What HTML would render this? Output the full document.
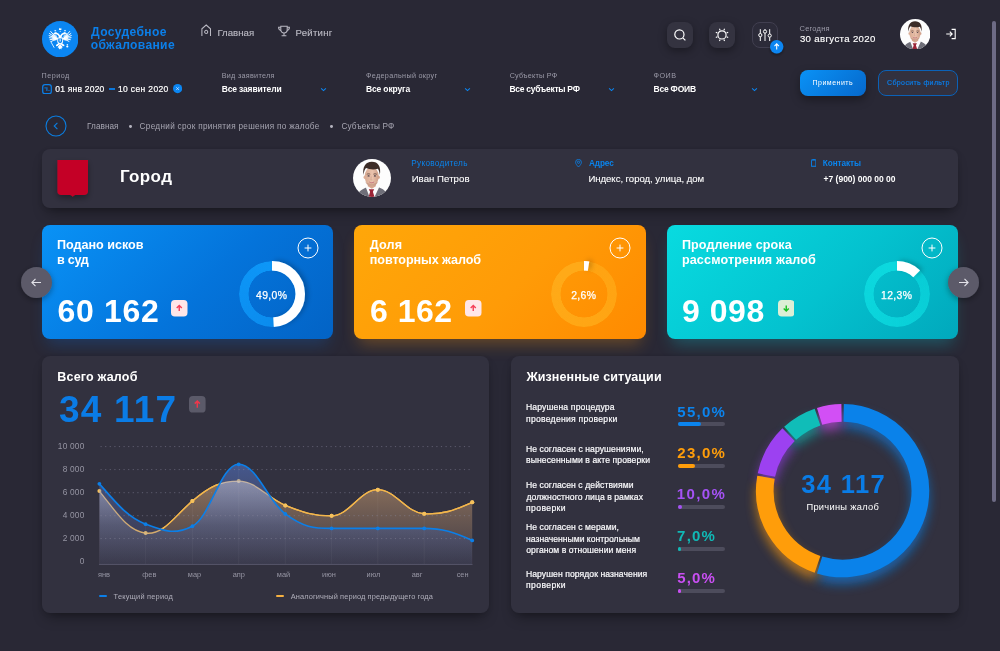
<!DOCTYPE html>
<html lang="ru"><head><meta charset="utf-8"><title>Досудебное обжалование</title>
<style>
html,body{margin:0;padding:0}
body{width:1000px;height:651px;overflow:hidden;position:relative;background:#292835;font-family:"Liberation Sans",sans-serif;color:#fff}
.abs{position:absolute;display:block}
.t{position:absolute;white-space:nowrap;line-height:1;display:block}
.panel{background:#32313f;border-radius:8px;box-shadow:0 8px 14px -5px rgba(0,0,0,.42),0 1px 5px rgba(0,0,0,.1)}
.kpi{border-radius:8px}
.ibtn{position:absolute;width:26px;height:26px;border-radius:8px;background:#343340;box-shadow:0 3px 8px rgba(0,0,0,.35)}
.ibtn.ob{background:#2c2b39;box-shadow:none;border:1px solid #413f50;box-sizing:border-box}
.ibtn.ob svg{margin:-1px}
.ibtn svg{display:block}
.btn1{border-radius:8px;background:linear-gradient(135deg,#0a92f6,#0668cb);box-shadow:0 4px 10px rgba(0,0,0,.35)}
.btn2{border-radius:8px;background:#32313f;border:1px solid #0b62b8;box-sizing:border-box}
</style></head><body>
<header>
<svg class="abs" style="left:41.800px;top:21px" width="36.400" height="36.400" viewBox="0 0 36.400 36.400"><circle cx="18.200" cy="18.200" r="18.200" fill="#0b86f2"/><path d="M14.90 14.80L11.20 12.40L10.00 15.00L10.40 18.20L12.40 19.70L15.20 19.00Z" fill="#fff" opacity=".7"/><path d="M14.90 17.60L8.70 10.50M14.90 17.60L7.50 12.50M14.90 17.60L7.10 14.60M14.90 17.60L7.30 16.70M14.90 17.60L8.00 18.70M14.90 17.60L9.40 20.40" stroke="#fff" stroke-width=".95" stroke-linecap="round" fill="none"/><path d="M21.46 14.80L25.16 12.40L26.36 15.00L25.96 18.20L23.96 19.70L21.16 19.00Z" fill="#fff" opacity=".7"/><path d="M21.46 17.60L27.66 10.50M21.46 17.60L28.86 12.50M21.46 17.60L29.26 14.60M21.46 17.60L29.06 16.70M21.46 17.60L28.36 18.70M21.46 17.60L26.96 20.40" stroke="#fff" stroke-width=".95" stroke-linecap="round" fill="none"/><path d="M13.900 12.300c2 .2 3.300 1.600 4.280 4.100.98-2.500 2.280-3.900 4.280-4.100" stroke="#fff" stroke-width="1.500" fill="none" stroke-linecap="round"/><path d="M18.180 15v2.500" stroke="#fff" stroke-width="2.600"/><g fill="#fff"><circle cx="13.700" cy="12.300" r="1.150"/><path d="M13 11.600l-1.900.9 2 .7z"/><circle cx="22.660" cy="12.300" r="1.150"/><path d="M23.360 11.600l1.900.9-2 .7z"/><path d="M12.500 10.300l.2-1.500.7.700.6-.7.200 1.500zM22.160 10.300l.2-1.500.6.700.7-.7.200 1.500zM16.900 9l.3-2.200.98.900.98-.9.300 2.200z"/><path d="M18.180 9.400l.5 1.500h-1z"/><path d="M15.300 16.600h5.760v3.800c0 1.500-1.200 2.500-2.880 3.200-1.680-.7-2.880-1.700-2.880-3.200z"/><path d="M16.600 22l-2.700 2 .3 1.200 1.500-.3 2-1.600zM19.760 22l2.700 2-.3 1.200-1.500-.3-2-1.600z"/><path d="M18.180 23l2.700 3.300-1.200.5-.4 1.700-1.100-.9-1.100.9-.4-1.700-1.200-.5z"/><circle cx="25.300" cy="25.500" r="1.100"/><path d="M25 23h.6v1.600H25zM24.500 23.500h1.600v.5h-1.600z"/></g><path d="M8.700 20.500l3.300 5.900" stroke="#fff" stroke-width=".8" stroke-linecap="round"/><path d="M16.200 17.400h3.960v2.900c0 .9-.8 1.500-1.980 2-1.180-.5-1.980-1.100-1.980-2z" fill="#0b86f2"/><path d="M17.500 18.300h1.360v2.200H17.500z" fill="#fff" opacity=".8"/></svg>
<span class="t" style="left:91.08px;top:25.56px;font-size:12.1px;color:#0b7fe9;font-weight:700;letter-spacing:0.339px;">Досудебное</span>
<span class="t" style="left:90.72px;top:38.86px;font-size:12.1px;color:#0b7fe9;font-weight:700;letter-spacing:0.338px;">обжалование</span>
<svg class="abs" style="left:200.500px;top:23.600px" width="10.400" height="13" viewBox="0 0 10.400 13" fill="none" stroke="#bab9c3" stroke-width="1.050"><path d="M.9 12.100V4.800L5.200 1l4.300 3.800v7.300"/><circle cx="5.200" cy="7.900" r="1.550"/></svg>
<span class="t" style="left:217.43px;top:27.77px;font-size:9.6px;color:#bab9c3;letter-spacing:0.035px;-webkit-text-stroke:0.15px #bab9c3;">Главная</span>
<svg class="abs" style="left:277px;top:25px" width="14" height="12" viewBox="0 0 14 12" fill="none" stroke="#bab9c3" stroke-width="1.050"><path d="M3.800 1.200h6.400v3.600a3.200 3.200 0 0 1-6.400 0z"/><path d="M3.800 2.200H1.600c0 2 .8 3 2.400 3.200M10.200 2.200h2.200c0 2-.8 3-2.400 3.200M7 8v2.400M4.600 10.800h4.800"/></svg>
<span class="t" style="left:295.53px;top:27.77px;font-size:9.6px;color:#bab9c3;letter-spacing:0.254px;-webkit-text-stroke:0.15px #bab9c3;">Рейтинг</span>
<div class="ibtn" style="left:667px;top:22px"><svg width="26" height="26" viewBox="0 0 26 26" fill="none" stroke="#fff" stroke-width="1.2"><circle cx="12.400" cy="12.400" r="4.600"/><path d="M15.800 15.800l2.600 2.600"/></svg></div>
<div class="ibtn" style="left:709.4px;top:22px"><svg width="26" height="26" viewBox="0 0 26 26" fill="none" stroke="#fff" stroke-width="1.150"><circle cx="13" cy="12.900" r="4.100"/><path d="M17.53 14.78L19.19 15.46M14.88 17.43L15.56 19.09M11.12 17.43L10.44 19.09M8.47 14.78L6.81 15.46M8.47 11.02L6.81 10.34M11.12 8.37L10.44 6.71M14.88 8.37L15.56 6.71M17.53 11.02L19.19 10.34"/></svg></div>
<div class="ibtn ob" style="left:752.400px;top:22px"><svg width="26" height="26" viewBox="0 0 26 26" fill="none" stroke="#fff" stroke-width="1"><path d="M8.300 7.200v4.300M8.300 14.700v4.300M13 7.200v.8M13 11.200v7.800M17.700 7.200v4.800M17.700 15.200v3.800"/><circle cx="8.300" cy="13.100" r="1.600"/><circle cx="13" cy="9.600" r="1.600"/><circle cx="17.700" cy="13.600" r="1.600"/></svg></div>
<svg class="abs" style="left:769.800px;top:39.500px;overflow:visible" width="13.400" height="13.400" viewBox="0 0 13.400 13.400"><defs><filter id="bs" x="-50%" y="-50%" width="200%" height="200%"><feDropShadow dx="0" dy="1.500" stdDeviation="1.800" flood-color="#000" flood-opacity=".4"/></filter></defs><circle cx="6.700" cy="6.700" r="6.700" fill="#0b86f2" filter="url(#bs)"/><path d="M6.700 9.600V4M4.500 6.100l2.200-2.200 2.200 2.200" fill="none" stroke="#fff" stroke-width="1.100"/></svg>
<span class="t" style="left:799.62px;top:24.65px;font-size:7.5px;color:#9b9aa8;letter-spacing:0.196px;">Сегодня</span>
<span class="t" style="left:799.92px;top:34.47px;font-size:9.6px;color:#fff;letter-spacing:0.361px;-webkit-text-stroke:0.15px #fff;">30 августа 2020</span>
<svg class="abs" style="left:899.6px;top:18.9px" width="30.4" height="30.4" viewBox="0 0 38 38"><defs><clipPath id="av914"><circle cx="19" cy="19" r="19"/></clipPath><linearGradient id="sk914" x1="0" y1="0" x2="1" y2="0"><stop offset="0" stop-color="#d8aa92"/><stop offset=".55" stop-color="#eac3ad"/><stop offset="1" stop-color="#cd9d86"/></linearGradient></defs><g clip-path="url(#av914)"><rect width="38" height="38" fill="#fdfdfd"/><path d="M4.500 38c.3-4.500 2.500-6.500 8.700-9.400L19 38l6.800-9.800c5.700 2.300 8.200 5 8.400 9.800z" fill="#6f6f79"/><path d="M13 28.800l2.200-3h8.200l2.600 2.800L21.500 38h-5z" fill="#fbfbfc"/><path d="M15.800 30.200h5.400l-1.300 2.600 1.600 5.200h-5.900l1.500-5.200z" fill="#9b2436"/><path d="M14.800 22h8v5.200l-4 2.600-4-2.600z" fill="#d7a78f"/><ellipse cx="18.700" cy="17.600" rx="7" ry="9.600" fill="url(#sk914)"/><ellipse cx="11.600" cy="18.200" rx="1" ry="1.700" fill="#dcae97"/><ellipse cx="25.800" cy="18.200" rx="1" ry="1.700" fill="#d3a28b"/><path d="M12 22c1.500 4 4 5.400 6.700 5.400s5.200-1.400 6.700-5.400c-1 2-3.500 2.600-6.700 2.600S13 24 12 22z" fill="#b98a78" opacity=".55"/><path d="M10.500 16c-1.300-8 2-13.300 8.300-13.300 6.400 0 9.400 4.600 8.100 13.300-.4-3-1-5-2.100-6.300-3.400 1.200-8.800.7-11.800-.6-1.300 1.400-2.100 3.700-2.500 6.900z" fill="#3c2c27"/><path d="M13.800 15.300c1-.6 2.400-.6 3.400-.1M20.400 15.200c1-.5 2.400-.5 3.400.1" stroke="#4a362f" stroke-width=".7" fill="none"/><ellipse cx="15.600" cy="16.900" rx="1.100" ry=".55" fill="#3b3340"/><ellipse cx="21.900" cy="16.900" rx="1.100" ry=".55" fill="#3b3340"/><path d="M18.400 17.500l-.6 3.400h1.700" stroke="#c99a85" stroke-width=".5" fill="none"/><path d="M16.600 23.200c1.300.7 2.900.7 4.200 0" stroke="#c2707c" stroke-width=".9" fill="none" stroke-linecap="round"/></g></svg>
<svg class="abs" style="left:944.500px;top:28px" width="12" height="12" viewBox="0 0 12 12" fill="none" stroke="#fff" stroke-width="1.100"><path d="M6.600 1.400h3.600v9.200H6.600"/><path d="M1.200 6h5.800M4.800 3.600L7.200 6 4.800 8.400"/></svg>
</header>
<section>
<span class="t" style="left:41.52px;top:71.91px;font-size:7.2px;color:#9b9aa8;letter-spacing:0.510px;">Период</span>
<span class="t" style="left:221.72px;top:71.91px;font-size:7.2px;color:#9b9aa8;letter-spacing:0.295px;">Вид заявителя</span>
<span class="t" style="left:366.07px;top:71.91px;font-size:7.2px;color:#9b9aa8;letter-spacing:0.325px;">Федеральный округ</span>
<span class="t" style="left:509.64px;top:71.91px;font-size:7.2px;color:#9b9aa8;letter-spacing:0.238px;">Субъекты РФ</span>
<span class="t" style="left:653.57px;top:71.91px;font-size:7.2px;color:#9b9aa8;letter-spacing:0.456px;">ФОИВ</span>
<svg class="abs" style="left:41.500px;top:83.800px" width="10" height="10.400" viewBox="0 0 10 10.400" fill="none" stroke="#0b80ea" stroke-width="1.250"><rect x=".7" y=".7" width="8.600" height="9" rx="2.300"/><path d="M3.100 3.600v.5M4.900 3.600v2.900M7 6.400v.1" stroke-linecap="round" stroke-width="1.100"/></svg>
<span class="t" style="left:55.26px;top:85.10px;font-size:8.5px;color:#fff;letter-spacing:0.220px;-webkit-text-stroke:0.2px #fff;">01 янв 2020</span>
<div class="abs" style="left:109.200px;top:88.300px;width:5.600px;height:1.500px;background:#0b78dc"></div>
<span class="t" style="left:117.96px;top:85.10px;font-size:8.5px;color:#fff;letter-spacing:0.363px;-webkit-text-stroke:0.2px #fff;">10 сен 2020</span>
<svg class="abs" style="left:173px;top:84.400px" width="9.200" height="9.200" viewBox="0 0 9.200 9.200"><circle cx="4.600" cy="4.600" r="4.600" fill="#0b86f2"/><path d="M3.300 3.300l2.600 2.600M5.900 3.300L3.300 5.900" stroke="#cfe6ff" stroke-width=".8"/></svg>
<span class="t" style="left:221.75px;top:84.80px;font-size:8.5px;color:#fff;font-weight:700;letter-spacing:-0.155px;">Все заявители</span>
<span class="t" style="left:365.95px;top:84.80px;font-size:8.5px;color:#fff;font-weight:700;letter-spacing:-0.141px;">Все округа</span>
<span class="t" style="left:509.45px;top:84.80px;font-size:8.5px;color:#fff;font-weight:700;letter-spacing:-0.277px;">Все субъекты РФ</span>
<span class="t" style="left:653.45px;top:84.80px;font-size:8.5px;color:#fff;font-weight:700;letter-spacing:-0.199px;">Все ФОИВ</span>
<svg class="abs" style="left:319.9px;top:87px" width="7" height="5" viewBox="0 0 7 5" fill="none" stroke="#0b86f2" stroke-width="1.050"><path d="M1.100 1.300l2.400 2.300 2.400-2.300"/></svg>
<svg class="abs" style="left:463.5px;top:87px" width="7" height="5" viewBox="0 0 7 5" fill="none" stroke="#0b86f2" stroke-width="1.050"><path d="M1.100 1.300l2.400 2.300 2.400-2.300"/></svg>
<svg class="abs" style="left:607.5px;top:87px" width="7" height="5" viewBox="0 0 7 5" fill="none" stroke="#0b86f2" stroke-width="1.050"><path d="M1.100 1.300l2.400 2.300 2.400-2.300"/></svg>
<svg class="abs" style="left:751.1px;top:87px" width="7" height="5" viewBox="0 0 7 5" fill="none" stroke="#0b86f2" stroke-width="1.050"><path d="M1.100 1.300l2.400 2.300 2.400-2.300"/></svg>
<div class="abs btn1" style="left:800px;top:70px;width:66px;height:25.600px"></div>
<span class="t" style="left:812.44px;top:79.27px;font-size:7px;color:#fff;letter-spacing:0.511px;">Применить</span>
<div class="abs btn2" style="left:878px;top:70px;width:80.400px;height:25.600px"></div>
<span class="t" style="left:887.05px;top:79.27px;font-size:7px;color:#0b7be4;letter-spacing:0.373px;-webkit-text-stroke:0.2px #0b7be4;">Сбросить фильтр</span>
</section>
<nav>
<svg class="abs" style="left:45px;top:114.800px" width="22" height="22" viewBox="0 0 22 22" fill="none" stroke="#0b7de0" stroke-width="1.100"><circle cx="11" cy="11" r="10"/><path d="M12.400 7.800L9.200 11l3.200 3.200"/></svg>
<span class="t" style="left:87.04px;top:122.66px;font-size:8.2px;color:#a6a5b1;letter-spacing:0.055px;">Главная</span>
<div class="abs" style="left:129px;top:125.400px;width:2.800px;height:2.800px;border-radius:50%;background:#b4b3be"></div>
<span class="t" style="left:139.59px;top:122.66px;font-size:8.2px;color:#a6a5b1;letter-spacing:0.307px;">Средний срок принятия решения по жалобе</span>
<div class="abs" style="left:330.300px;top:125.400px;width:2.800px;height:2.800px;border-radius:50%;background:#b4b3be"></div>
<span class="t" style="left:341.49px;top:122.66px;font-size:8.2px;color:#a6a5b1;letter-spacing:0.141px;">Субъекты РФ</span>
</nav>
<section class="abs panel" style="left:42px;top:149px;width:916px;height:59px"></section>
<svg class="abs" style="left:52px;top:156px;overflow:visible" width="42" height="48" viewBox="0 0 42 48"><defs><filter id="ss" x="-30%" y="-30%" width="160%" height="170%"><feDropShadow dx="0" dy="3" stdDeviation="3" flood-color="#000" flood-opacity=".35"/></filter></defs><path filter="url(#ss)" d="M5.400 4h30.600v31.500c0 2-1.600 3.500-4 3.500h-7.800c-1.600 0-2.600.6-3.500 1.700-.9-1.100-1.900-1.700-3.500-1.700H9.400c-2.400 0-4-1.500-4-3.500z" fill="#c40026"/></svg>
<span class="t" style="left:119.89px;top:167.61px;font-size:17px;color:#fff;font-weight:700;letter-spacing:0.389px;">Город</span>
<svg class="abs" style="left:353.0px;top:159.0px" width="38.0" height="38.0" viewBox="0 0 38 38"><defs><clipPath id="av372"><circle cx="19" cy="19" r="19"/></clipPath><linearGradient id="sk372" x1="0" y1="0" x2="1" y2="0"><stop offset="0" stop-color="#d8aa92"/><stop offset=".55" stop-color="#eac3ad"/><stop offset="1" stop-color="#cd9d86"/></linearGradient></defs><g clip-path="url(#av372)"><rect width="38" height="38" fill="#fdfdfd"/><path d="M4.500 38c.3-4.500 2.500-6.500 8.700-9.400L19 38l6.800-9.800c5.700 2.300 8.200 5 8.400 9.800z" fill="#6f6f79"/><path d="M13 28.800l2.200-3h8.200l2.600 2.800L21.500 38h-5z" fill="#fbfbfc"/><path d="M15.800 30.200h5.400l-1.300 2.600 1.600 5.200h-5.900l1.500-5.200z" fill="#9b2436"/><path d="M14.800 22h8v5.200l-4 2.600-4-2.600z" fill="#d7a78f"/><ellipse cx="18.700" cy="17.600" rx="7" ry="9.600" fill="url(#sk372)"/><ellipse cx="11.600" cy="18.200" rx="1" ry="1.700" fill="#dcae97"/><ellipse cx="25.800" cy="18.200" rx="1" ry="1.700" fill="#d3a28b"/><path d="M12 22c1.500 4 4 5.400 6.700 5.400s5.200-1.400 6.700-5.400c-1 2-3.500 2.600-6.700 2.600S13 24 12 22z" fill="#b98a78" opacity=".55"/><path d="M10.500 16c-1.300-8 2-13.300 8.300-13.300 6.400 0 9.400 4.600 8.100 13.300-.4-3-1-5-2.100-6.300-3.400 1.200-8.800.7-11.800-.6-1.300 1.400-2.100 3.700-2.500 6.900z" fill="#3c2c27"/><path d="M13.800 15.300c1-.6 2.400-.6 3.400-.1M20.400 15.200c1-.5 2.400-.5 3.400.1" stroke="#4a362f" stroke-width=".7" fill="none"/><ellipse cx="15.600" cy="16.900" rx="1.100" ry=".55" fill="#3b3340"/><ellipse cx="21.900" cy="16.900" rx="1.100" ry=".55" fill="#3b3340"/><path d="M18.400 17.500l-.6 3.400h1.700" stroke="#c99a85" stroke-width=".5" fill="none"/><path d="M16.600 23.200c1.300.7 2.900.7 4.200 0" stroke="#c2707c" stroke-width=".9" fill="none" stroke-linecap="round"/></g></svg>
<span class="t" style="left:411.24px;top:159.76px;font-size:8.2px;color:#0a84ec;letter-spacing:0.316px;">Руководитель</span>
<span class="t" style="left:411.63px;top:173.77px;font-size:9.6px;color:#fff;letter-spacing:0.059px;-webkit-text-stroke:0.1px #fff;">Иван Петров</span>
<svg class="abs" style="left:575.300px;top:159px" width="7" height="8.500" viewBox="0 0 7 8.500" fill="none" stroke="#0b7de0" stroke-width=".9"><path d="M3.500 8C1.600 6 .6 4.700.6 3.300a2.900 2.900 0 0 1 5.800 0C6.400 4.700 5.400 6 3.500 8z"/><circle cx="3.500" cy="3.300" r="1.100"/></svg>
<span class="t" style="left:589.00px;top:159.76px;font-size:8.2px;color:#0a84ec;font-weight:700;letter-spacing:-0.096px;">Адрес</span>
<span class="t" style="left:588.43px;top:173.77px;font-size:9.6px;color:#fff;letter-spacing:-0.045px;-webkit-text-stroke:0.1px #fff;">Индекс, город, улица, дом</span>
<svg class="abs" style="left:810.700px;top:159px" width="5.400" height="8.400" viewBox="0 0 5.400 8.400" fill="none" stroke="#0b7de0"><rect x=".5" y=".5" width="4.400" height="7.400" rx=".9" stroke-width="1"/><path d="M.5 1.200h4.400M.5 7.200h4.400" stroke-width=".9"/></svg>
<span class="t" style="left:822.87px;top:159.76px;font-size:8.2px;color:#0a84ec;font-weight:700;letter-spacing:-0.065px;">Контакты</span>
<span class="t" style="left:823.56px;top:174.50px;font-size:8.5px;color:#fff;font-weight:700;letter-spacing:-0.006px;">+7 (900) 000 00 00</span>
<article class="abs kpi" style="left:41.5px;top:225px;width:291.700px;height:113.500px;background:linear-gradient(135deg,#0992f6 0%,#0474db 55%,#0363c5 100%);box-shadow:0 10px 16px -5px rgba(10,110,225,.27)"></article>
<span class="t" style="left:57.08px;top:238.83px;font-size:12.6px;color:#fff;font-weight:700;letter-spacing:-0.030px;">Подано исков</span>
<span class="t" style="left:57.02px;top:253.83px;font-size:12.6px;color:#fff;font-weight:700;letter-spacing:-0.279px;">в суд</span>
<span class="t" style="left:57.58px;top:294.71px;font-size:32px;color:#fff;font-weight:700;letter-spacing:0.676px;">60 162</span>
<svg class="abs" style="left:171px;top:300.200px" width="16.500" height="16.500" viewBox="0 0 16.500 16.500"><rect width="16.500" height="16.500" rx="3.800" fill="#ffe6e8"/><path d="M8.250 11V5.800M5.700 7.900L8.250 5.400l2.550 2.500" fill="none" stroke="#f5405a" stroke-width="1.400"/></svg>
<div class="abs" style="left:238.5px;top:261.2px;width:66px;height:66px;border-radius:50%;background:conic-gradient(from 176deg,rgba(15,156,252,.68) 0deg,rgba(15,156,252,1) 300deg,rgba(15,156,252,1) 360deg);-webkit-mask:radial-gradient(circle closest-side,transparent 23.200px,#000 23.700px);mask:radial-gradient(circle closest-side,transparent 23.200px,#000 23.700px)"></div><svg class="abs" style="left:231.5px;top:254.2px;overflow:visible" width="80" height="80" viewBox="-40 -40 80 80"><defs><filter id="ds1" x="-40%" y="-40%" width="180%" height="180%"><feDropShadow dx="1" dy="3" stdDeviation="2.500" flood-color="#000" flood-opacity=".22"/></filter></defs><circle r="28.2" fill="none" stroke="#fff" stroke-width="9.6" stroke-dasharray="86.82 177.19" transform="rotate(-90)" filter="url(#ds1)"/></svg>
<span class="t" style="left:271.70px;top:290.60px;font-size:10.4px;color:#fff;-webkit-text-stroke:0.25px #fff;transform:translateX(-50%);letter-spacing:.35px;">49,0%</span>
<svg class="abs" style="left:296.5px;top:236.7px" width="22" height="22" viewBox="0 0 22 22" fill="none" stroke="#fff" stroke-width="1"><circle cx="11" cy="11" r="10"/><path d="M11 7.600v6.800M7.600 11h6.800"/></svg>
<article class="abs kpi" style="left:354px;top:225px;width:291.700px;height:113.500px;background:linear-gradient(135deg,#ffa709 0%,#ff9b07 55%,#ff8a00 100%);box-shadow:0 10px 16px -5px rgba(255,150,10,.3)"></article>
<span class="t" style="left:369.87px;top:238.83px;font-size:12.6px;color:#fff;font-weight:700;letter-spacing:0.110px;">Доля</span>
<span class="t" style="left:369.82px;top:253.83px;font-size:12.6px;color:#fff;font-weight:700;letter-spacing:-0.085px;">повторных жалоб</span>
<span class="t" style="left:369.88px;top:294.71px;font-size:32px;color:#fff;font-weight:700;letter-spacing:0.550px;">6 162</span>
<svg class="abs" style="left:465.2px;top:300.200px" width="16.500" height="16.500" viewBox="0 0 16.500 16.500"><rect width="16.500" height="16.500" rx="3.800" fill="#ffe6e8"/><path d="M8.250 11V5.800M5.700 7.900L8.250 5.400l2.550 2.500" fill="none" stroke="#f5405a" stroke-width="1.400"/></svg>
<div class="abs" style="left:550.5px;top:261.2px;width:66px;height:66px;border-radius:50%;background:conic-gradient(from 9deg,rgba(255,170,24,.68) 0deg,rgba(255,170,24,1) 300deg,rgba(255,170,24,1) 360deg);-webkit-mask:radial-gradient(circle closest-side,transparent 23.200px,#000 23.700px);mask:radial-gradient(circle closest-side,transparent 23.200px,#000 23.700px)"></div><svg class="abs" style="left:543.5px;top:254.2px;overflow:visible" width="80" height="80" viewBox="-40 -40 80 80"><defs><filter id="ds2" x="-40%" y="-40%" width="180%" height="180%"><feDropShadow dx="1" dy="3" stdDeviation="2.500" flood-color="#000" flood-opacity=".22"/></filter></defs><circle r="28.2" fill="none" stroke="#fff" stroke-width="9.6" stroke-dasharray="4.61 177.19" transform="rotate(-90)" filter="url(#ds2)"/></svg>
<span class="t" style="left:583.70px;top:290.60px;font-size:10.4px;color:#fff;-webkit-text-stroke:0.25px #fff;transform:translateX(-50%);letter-spacing:.35px;">2,6%</span>
<svg class="abs" style="left:608.9px;top:236.7px" width="22" height="22" viewBox="0 0 22 22" fill="none" stroke="#fff" stroke-width="1"><circle cx="11" cy="11" r="10"/><path d="M11 7.600v6.800M7.600 11h6.800"/></svg>
<article class="abs kpi" style="left:666.6px;top:225px;width:291.700px;height:113.500px;background:linear-gradient(135deg,#08dbe0 0%,#04c2cf 55%,#01a8bc 100%);box-shadow:0 10px 16px -5px rgba(10,200,215,.3)"></article>
<span class="t" style="left:681.88px;top:238.83px;font-size:12.6px;color:#fff;font-weight:700;letter-spacing:0.084px;">Продление срока</span>
<span class="t" style="left:681.88px;top:253.83px;font-size:12.6px;color:#fff;font-weight:700;letter-spacing:0.137px;">рассмотрения жалоб</span>
<span class="t" style="left:682.08px;top:294.71px;font-size:32px;color:#fff;font-weight:700;letter-spacing:0.520px;">9 098</span>
<svg class="abs" style="left:777.7px;top:300.200px" width="16.500" height="16.500" viewBox="0 0 16.500 16.500"><rect width="16.500" height="16.500" rx="3.800" fill="#dcefd5"/><path d="M8.250 5.500v5.200M5.700 8.600l2.550 2.500 2.550-2.500" fill="none" stroke="#18bf22" stroke-width="1.400"/></svg>
<div class="abs" style="left:863.5px;top:261.2px;width:66px;height:66px;border-radius:50%;background:conic-gradient(from 44deg,rgba(12,216,222,.68) 0deg,rgba(12,216,222,1) 300deg,rgba(12,216,222,1) 360deg);-webkit-mask:radial-gradient(circle closest-side,transparent 23.200px,#000 23.700px);mask:radial-gradient(circle closest-side,transparent 23.200px,#000 23.700px)"></div><svg class="abs" style="left:856.5px;top:254.2px;overflow:visible" width="80" height="80" viewBox="-40 -40 80 80"><defs><filter id="ds3" x="-40%" y="-40%" width="180%" height="180%"><feDropShadow dx="1" dy="3" stdDeviation="2.500" flood-color="#000" flood-opacity=".22"/></filter></defs><circle r="28.2" fill="none" stroke="#fff" stroke-width="9.6" stroke-dasharray="21.79 177.19" transform="rotate(-90)" filter="url(#ds3)"/></svg>
<span class="t" style="left:896.70px;top:290.60px;font-size:10.4px;color:#fff;-webkit-text-stroke:0.25px #fff;transform:translateX(-50%);letter-spacing:.35px;">12,3%</span>
<svg class="abs" style="left:921.4px;top:236.7px" width="22" height="22" viewBox="0 0 22 22" fill="none" stroke="#fff" stroke-width="1"><circle cx="11" cy="11" r="10"/><path d="M11 7.600v6.800M7.600 11h6.800"/></svg>
<svg class="abs" style="left:20.900px;top:267px;overflow:visible" width="31" height="31" viewBox="0 0 31 31"><defs><filter id="na" x="-40%" y="-40%" width="180%" height="180%"><feDropShadow dx="0" dy="2" stdDeviation="3" flood-color="#000" flood-opacity=".35"/></filter></defs><circle cx="15.500" cy="15.500" r="15.500" fill="#5b5a69" filter="url(#na)"/><path d="M20 15.500h-9M14.500 11.900l-3.600 3.600 3.600 3.600" fill="none" stroke="#e4e3ea" stroke-width="1.100"/></svg>
<svg class="abs" style="left:948.100px;top:266.500px;overflow:visible" width="31" height="31" viewBox="0 0 31 31"><circle cx="15.500" cy="15.500" r="15.500" fill="#5b5a69" filter="url(#na)"/><path d="M11 15.500h9M16.500 11.900l3.600 3.600-3.600 3.600" fill="none" stroke="#e4e3ea" stroke-width="1.100"/></svg>
<section class="abs panel" style="left:42px;top:356px;width:447.300px;height:256.500px"></section>
<span class="t" style="left:57.29px;top:370.52px;font-size:12.5px;color:#fff;font-weight:700;letter-spacing:0.193px;">Всего жалоб</span>
<span class="t" style="left:58.88px;top:390.68px;font-size:37px;color:#0a7ce6;font-weight:700;letter-spacing:1.238px;">34 117</span>
<svg class="abs" style="left:189.200px;top:396.200px" width="16.600" height="16.600" viewBox="0 0 17 17"><rect width="17" height="17" rx="4" fill="#5b5a69"/><path d="M8.500 12V5.400M5.900 7.800L8.500 5.200l2.600 2.600" fill="none" stroke="#f0364a" stroke-width="1.500"/></svg>
<svg class="abs" style="left:0;top:0" width="1000" height="651" viewBox="0 0 1000 651"><defs><linearGradient id="go" x1="0" y1="478" x2="0" y2="564" gradientUnits="userSpaceOnUse"><stop offset="0" stop-color="#d9a774" stop-opacity=".56"/><stop offset="1" stop-color="#b08a6c" stop-opacity=".16"/></linearGradient><linearGradient id="gb" x1="0" y1="462" x2="0" y2="564" gradientUnits="userSpaceOnUse"><stop offset="0" stop-color="#5c88ee" stop-opacity=".46"/><stop offset="1" stop-color="#6670b0" stop-opacity=".1"/></linearGradient><linearGradient id="gw" x1="0" y1="478" x2="0" y2="564" gradientUnits="userSpaceOnUse"><stop offset="0" stop-color="#d8d2dc" stop-opacity=".5"/><stop offset=".55" stop-color="#d8d2dc" stop-opacity=".16"/><stop offset="1" stop-color="#d8d2dc" stop-opacity=".02"/></linearGradient><clipPath id="co"><path d="M99.4 491.1C117.2 513.3 127.8 531.0 145.6 533.1C163.6 535.3 174.4 516.3 192.4 501.0C210.2 485.9 220.9 481.1 238.7 481.1C256.6 481.1 267.4 498.2 285.3 505.4C303.1 512.5 313.8 515.8 331.6 515.8C349.4 515.8 360.0 489.7 377.8 489.7C395.6 489.7 406.4 512.9 424.2 513.8C442.7 514.7 453.7 510.6 472.2 502.3L472.2 564.4L99.4 564.4Z"/></clipPath><clipPath id="cu"><path d="M99.4 491.1C117.2 513.3 127.8 531.0 145.6 533.1C163.6 535.3 174.4 516.3 192.4 501.0C210.2 485.9 220.9 481.1 238.7 481.1C256.6 481.1 267.4 498.2 285.3 505.4C303.1 512.5 313.8 515.8 331.6 515.8C349.4 515.8 360.0 489.7 377.8 489.7C395.6 489.7 406.4 512.9 424.2 513.8C442.7 514.7 453.7 510.6 472.2 502.3L472.2 564.4L99.4 564.4Z"/><path d="M99.4 483.8C117.2 504.2 127.8 517.4 145.6 524.2C163.6 531.0 174.4 535.2 192.4 526.2C210.2 517.3 220.9 464.3 238.7 464.3C256.6 464.3 267.4 500.5 285.3 513.9C303.1 527.3 313.8 528.4 331.6 528.4C349.4 528.4 360.0 528.4 377.8 528.4C395.6 528.4 406.4 528.4 424.2 528.4C442.7 528.4 453.7 532.1 472.2 540.4L472.2 564.4L99.4 564.4Z"/></clipPath><clipPath id="cnb"><path d="M99.4 483.8C117.2 504.2 127.8 517.4 145.6 524.2C163.6 531.0 174.4 535.2 192.4 526.2C210.2 517.3 220.9 464.3 238.7 464.3C256.6 464.3 267.4 500.5 285.3 513.9C303.1 527.3 313.8 528.4 331.6 528.4C349.4 528.4 360.0 528.4 377.8 528.4C395.6 528.4 406.4 528.4 424.2 528.4C442.7 528.4 453.7 532.1 472.2 540.4L475.2 540.4L475.2 440L96.4 440L96.4 483.8Z"/></clipPath></defs><path d="M99.4 491.1C117.2 513.3 127.8 531.0 145.6 533.1C163.6 535.3 174.4 516.3 192.4 501.0C210.2 485.9 220.9 481.1 238.7 481.1C256.6 481.1 267.4 498.2 285.3 505.4C303.1 512.5 313.8 515.8 331.6 515.8C349.4 515.8 360.0 489.7 377.8 489.7C395.6 489.7 406.4 512.9 424.2 513.8C442.7 514.7 453.7 510.6 472.2 502.3L472.2 564.4L99.4 564.4Z" fill="url(#go)"/><path d="M99.4 483.8C117.2 504.2 127.8 517.4 145.6 524.2C163.6 531.0 174.4 535.2 192.4 526.2C210.2 517.3 220.9 464.3 238.7 464.3C256.6 464.3 267.4 500.5 285.3 513.9C303.1 527.3 313.8 528.4 331.6 528.4C349.4 528.4 360.0 528.4 377.8 528.4C395.6 528.4 406.4 528.4 424.2 528.4C442.7 528.4 453.7 532.1 472.2 540.4L472.2 564.4L99.4 564.4Z" fill="#32313f"/><path d="M99.4 491.1C117.2 513.3 127.8 531.0 145.6 533.1C163.6 535.3 174.4 516.3 192.4 501.0C210.2 485.9 220.9 481.1 238.7 481.1C256.6 481.1 267.4 498.2 285.3 505.4C303.1 512.5 313.8 515.8 331.6 515.8C349.4 515.8 360.0 489.7 377.8 489.7C395.6 489.7 406.4 512.9 424.2 513.8C442.7 514.7 453.7 510.6 472.2 502.3" fill="none" stroke="#f3b64c" stroke-width="1.300"/><circle cx="99.4" cy="491.1" r="2" fill="#f6c15c"/><circle cx="145.6" cy="533.1" r="2" fill="#f6c15c"/><circle cx="192.4" cy="501.0" r="2" fill="#f6c15c"/><circle cx="238.7" cy="481.1" r="2" fill="#f6c15c"/><circle cx="285.3" cy="505.4" r="2" fill="#f6c15c"/><circle cx="331.6" cy="515.8" r="2" fill="#f6c15c"/><circle cx="377.8" cy="489.7" r="2" fill="#f6c15c"/><circle cx="424.2" cy="513.8" r="2" fill="#f6c15c"/><circle cx="472.2" cy="502.3" r="2" fill="#f6c15c"/><path d="M99.4 483.8C117.2 504.2 127.8 517.4 145.6 524.2C163.6 531.0 174.4 535.2 192.4 526.2C210.2 517.3 220.9 464.3 238.7 464.3C256.6 464.3 267.4 500.5 285.3 513.9C303.1 527.3 313.8 528.4 331.6 528.4C349.4 528.4 360.0 528.4 377.8 528.4C395.6 528.4 406.4 528.4 424.2 528.4C442.7 528.4 453.7 532.1 472.2 540.4L472.2 564.4L99.4 564.4Z" fill="url(#gb)"/><path d="M99.4 483.8C117.2 504.2 127.8 517.4 145.6 524.2C163.6 531.0 174.4 535.2 192.4 526.2C210.2 517.3 220.9 464.3 238.7 464.3C256.6 464.3 267.4 500.5 285.3 513.9C303.1 527.3 313.8 528.4 331.6 528.4C349.4 528.4 360.0 528.4 377.8 528.4C395.6 528.4 406.4 528.4 424.2 528.4C442.7 528.4 453.7 532.1 472.2 540.4L472.2 564.4L99.4 564.4Z" fill="url(#gw)" clip-path="url(#co)"/><path d="M100.500 446.6H473" stroke="#8b8aa0" stroke-opacity=".5" stroke-width="1" stroke-dasharray="1.200 3.400"/><path d="M100.500 469.6H473" stroke="#8b8aa0" stroke-opacity=".5" stroke-width="1" stroke-dasharray="1.200 3.400"/><path d="M100.500 492.7H473" stroke="#8b8aa0" stroke-opacity=".5" stroke-width="1" stroke-dasharray="1.200 3.400"/><path d="M100.500 515.7H473" stroke="#8b8aa0" stroke-opacity=".5" stroke-width="1" stroke-dasharray="1.200 3.400"/><path d="M100.500 538.6H473" stroke="#8b8aa0" stroke-opacity=".5" stroke-width="1" stroke-dasharray="1.200 3.400"/><path d="M99.4 460V564.4" stroke="#ffffff" stroke-opacity=".045" stroke-width="1" clip-path="url(#cu)"/><path d="M145.6 460V564.4" stroke="#ffffff" stroke-opacity=".045" stroke-width="1" clip-path="url(#cu)"/><path d="M192.4 460V564.4" stroke="#ffffff" stroke-opacity=".045" stroke-width="1" clip-path="url(#cu)"/><path d="M238.7 460V564.4" stroke="#ffffff" stroke-opacity=".045" stroke-width="1" clip-path="url(#cu)"/><path d="M285.3 460V564.4" stroke="#ffffff" stroke-opacity=".045" stroke-width="1" clip-path="url(#cu)"/><path d="M331.6 460V564.4" stroke="#ffffff" stroke-opacity=".045" stroke-width="1" clip-path="url(#cu)"/><path d="M377.8 460V564.4" stroke="#ffffff" stroke-opacity=".045" stroke-width="1" clip-path="url(#cu)"/><path d="M424.2 460V564.4" stroke="#ffffff" stroke-opacity=".045" stroke-width="1" clip-path="url(#cu)"/><path d="M472.2 460V564.4" stroke="#ffffff" stroke-opacity=".045" stroke-width="1" clip-path="url(#cu)"/><path d="M99 564.4H472.500" stroke="#57566b" stroke-width="1"/><path d="M99.4 491.1C117.2 513.3 127.8 531.0 145.6 533.1C163.6 535.3 174.4 516.3 192.4 501.0C210.2 485.9 220.9 481.1 238.7 481.1C256.6 481.1 267.4 498.2 285.3 505.4C303.1 512.5 313.8 515.8 331.6 515.8C349.4 515.8 360.0 489.7 377.8 489.7C395.6 489.7 406.4 512.9 424.2 513.8C442.7 514.7 453.7 510.6 472.2 502.3" fill="none" stroke="#f3b64c" stroke-width="1.300" clip-path="url(#cnb)"/><circle cx="192.4" cy="501.0" r="2" fill="#f6c15c"/><circle cx="285.3" cy="505.4" r="2" fill="#f6c15c"/><circle cx="331.6" cy="515.8" r="2" fill="#f6c15c"/><circle cx="377.8" cy="489.7" r="2" fill="#f6c15c"/><circle cx="424.2" cy="513.8" r="2" fill="#f6c15c"/><circle cx="472.2" cy="502.3" r="2" fill="#f6c15c"/><path d="M99.4 483.8C117.2 504.2 127.8 517.4 145.6 524.2C163.6 531.0 174.4 535.2 192.4 526.2C210.2 517.3 220.9 464.3 238.7 464.3C256.6 464.3 267.4 500.5 285.3 513.9C303.1 527.3 313.8 528.4 331.6 528.4C349.4 528.4 360.0 528.4 377.8 528.4C395.6 528.4 406.4 528.4 424.2 528.4C442.7 528.4 453.7 532.1 472.2 540.4" fill="none" stroke="#0b7fe8" stroke-width="1.600"/><circle cx="99.4" cy="483.8" r="1.900" fill="#0b7fe8"/><circle cx="145.6" cy="524.2" r="1.900" fill="#0b7fe8"/><circle cx="192.4" cy="526.2" r="1.900" fill="#0b7fe8"/><circle cx="238.7" cy="464.3" r="1.900" fill="#0b7fe8"/><circle cx="285.3" cy="513.9" r="1.900" fill="#0b7fe8"/><circle cx="331.6" cy="528.4" r="1.900" fill="#0b7fe8"/><circle cx="377.8" cy="528.4" r="1.900" fill="#0b7fe8"/><circle cx="424.2" cy="528.4" r="1.900" fill="#0b7fe8"/><circle cx="472.2" cy="540.4" r="1.900" fill="#0b7fe8"/></svg>
<span class="t" style="left:84.50px;top:441.87px;font-size:8.3px;color:#9695a3;transform:translateX(-100%);letter-spacing:.22px;">10 000</span>
<span class="t" style="left:84.50px;top:464.67px;font-size:8.3px;color:#9695a3;transform:translateX(-100%);letter-spacing:.22px;">8 000</span>
<span class="t" style="left:84.50px;top:487.67px;font-size:8.3px;color:#9695a3;transform:translateX(-100%);letter-spacing:.22px;">6 000</span>
<span class="t" style="left:84.50px;top:510.77px;font-size:8.3px;color:#9695a3;transform:translateX(-100%);letter-spacing:.22px;">4 000</span>
<span class="t" style="left:84.50px;top:533.77px;font-size:8.3px;color:#9695a3;transform:translateX(-100%);letter-spacing:.22px;">2 000</span>
<span class="t" style="left:84.50px;top:556.57px;font-size:8.3px;color:#9695a3;transform:translateX(-100%);letter-spacing:.22px;">0</span>
<span class="t" style="left:104.00px;top:571.14px;font-size:7.4px;color:#9695a3;transform:translateX(-50%);">янв</span>
<span class="t" style="left:149.30px;top:571.14px;font-size:7.4px;color:#9695a3;transform:translateX(-50%);">фев</span>
<span class="t" style="left:194.50px;top:571.14px;font-size:7.4px;color:#9695a3;transform:translateX(-50%);">мар</span>
<span class="t" style="left:238.80px;top:571.14px;font-size:7.4px;color:#9695a3;transform:translateX(-50%);">апр</span>
<span class="t" style="left:283.50px;top:571.14px;font-size:7.4px;color:#9695a3;transform:translateX(-50%);">май</span>
<span class="t" style="left:329.00px;top:571.14px;font-size:7.4px;color:#9695a3;transform:translateX(-50%);">июн</span>
<span class="t" style="left:373.50px;top:571.14px;font-size:7.4px;color:#9695a3;transform:translateX(-50%);">июл</span>
<span class="t" style="left:417.00px;top:571.14px;font-size:7.4px;color:#9695a3;transform:translateX(-50%);">авг</span>
<span class="t" style="left:462.60px;top:571.14px;font-size:7.4px;color:#9695a3;transform:translateX(-50%);">сен</span>
<div class="abs" style="left:99.200px;top:595.300px;width:8px;height:1.500px;background:#0b7fe8;border-radius:1px"></div>
<span class="t" style="left:113.61px;top:593.14px;font-size:7.4px;color:#b0afbb;letter-spacing:0.225px;">Текущий период</span>
<div class="abs" style="left:276.300px;top:595.300px;width:8px;height:1.500px;background:#f5b041;border-radius:1px"></div>
<span class="t" style="left:290.76px;top:593.14px;font-size:7.4px;color:#b0afbb;letter-spacing:0.121px;">Аналогичный период предыдущего года</span>
<section class="abs panel" style="left:510.500px;top:356px;width:448px;height:257px"></section>
<span class="t" style="left:526.40px;top:371.42px;font-size:12.5px;color:#fff;font-weight:700;letter-spacing:0.084px;">Жизненные ситуации</span>
<span class="t" style="left:525.91px;top:403.42px;font-size:8.6px;color:#fbfbfd;letter-spacing:0.152px;-webkit-text-stroke:0.2px #fbfbfd;">Нарушена процедура</span>
<span class="t" style="left:526.00px;top:414.62px;font-size:8.6px;color:#fbfbfd;letter-spacing:0.266px;-webkit-text-stroke:0.2px #fbfbfd;">проведения проверки</span>
<span class="t" style="left:677.35px;top:403.50px;font-size:15px;color:#0b84ee;font-weight:700;letter-spacing:1.250px;">55,0%</span>
<div class="abs" style="left:677.500px;top:422.2px;width:47.500px;height:3.500px;border-radius:2px;background:#4d4c5c"><div style="width:23.5px;height:100%;border-radius:2px;background:#0b84ee"></div></div>
<span class="t" style="left:525.91px;top:445.12px;font-size:8.6px;color:#fbfbfd;letter-spacing:0.084px;-webkit-text-stroke:0.2px #fbfbfd;">Не согласен с нарушениями,</span>
<span class="t" style="left:526.00px;top:455.92px;font-size:8.6px;color:#fbfbfd;letter-spacing:0.096px;-webkit-text-stroke:0.2px #fbfbfd;">вынесенными в акте проверки</span>
<span class="t" style="left:677.27px;top:445.30px;font-size:15px;color:#ff9d0a;font-weight:700;letter-spacing:1.269px;">23,0%</span>
<div class="abs" style="left:677.500px;top:464.2px;width:47.500px;height:3.500px;border-radius:2px;background:#4d4c5c"><div style="width:17.5px;height:100%;border-radius:2px;background:#ff9d0a"></div></div>
<span class="t" style="left:525.91px;top:481.42px;font-size:8.6px;color:#fbfbfd;letter-spacing:0.081px;-webkit-text-stroke:0.2px #fbfbfd;">Не согласен с действиями</span>
<span class="t" style="left:526.51px;top:492.62px;font-size:8.6px;color:#fbfbfd;letter-spacing:0.055px;-webkit-text-stroke:0.2px #fbfbfd;">должностного лица в рамках</span>
<span class="t" style="left:526.00px;top:504.12px;font-size:8.6px;color:#fbfbfd;letter-spacing:0.393px;-webkit-text-stroke:0.2px #fbfbfd;">проверки</span>
<span class="t" style="left:676.82px;top:486.00px;font-size:15px;color:#a552f5;font-weight:700;letter-spacing:1.381px;">10,0%</span>
<div class="abs" style="left:677.500px;top:505.4px;width:47.500px;height:3.500px;border-radius:2px;background:#4d4c5c"><div style="width:4.5px;height:100%;border-radius:2px;background:#a552f5"></div></div>
<span class="t" style="left:525.91px;top:523.42px;font-size:8.6px;color:#fbfbfd;letter-spacing:0.074px;-webkit-text-stroke:0.2px #fbfbfd;">Не согласен с мерами,</span>
<span class="t" style="left:526.00px;top:534.62px;font-size:8.6px;color:#fbfbfd;letter-spacing:0.010px;-webkit-text-stroke:0.2px #fbfbfd;">назначенными контрольным</span>
<span class="t" style="left:526.26px;top:545.92px;font-size:8.6px;color:#fbfbfd;letter-spacing:0.052px;-webkit-text-stroke:0.2px #fbfbfd;">органом в отношении меня</span>
<span class="t" style="left:677.12px;top:528.00px;font-size:15px;color:#10b9b6;font-weight:700;letter-spacing:1.183px;">7,0%</span>
<div class="abs" style="left:677.500px;top:547.2px;width:47.500px;height:3.500px;border-radius:2px;background:#4d4c5c"><div style="width:3px;height:100%;border-radius:2px;background:#10b9b6"></div></div>
<span class="t" style="left:525.91px;top:569.62px;font-size:8.6px;color:#fbfbfd;letter-spacing:0.067px;-webkit-text-stroke:0.2px #fbfbfd;">Нарушен порядок назначения</span>
<span class="t" style="left:526.00px;top:580.92px;font-size:8.6px;color:#fbfbfd;letter-spacing:0.393px;-webkit-text-stroke:0.2px #fbfbfd;">проверки</span>
<span class="t" style="left:677.35px;top:570.00px;font-size:15px;color:#c94ff2;font-weight:700;letter-spacing:1.108px;">5,0%</span>
<div class="abs" style="left:677.500px;top:589.0px;width:47.500px;height:3.500px;border-radius:2px;background:#4d4c5c"><div style="width:3px;height:100%;border-radius:2px;background:#c94ff2"></div></div>
<svg class="abs" style="left:0;top:0" width="1000" height="651" viewBox="0 0 1000 651"><defs><filter id="gl" filterUnits="userSpaceOnUse" x="700" y="340" width="300" height="300"><feGaussianBlur stdDeviation="5.500"/></filter><clipPath id="pc"><rect x="510.500" y="356" width="448" height="257" rx="8"/></clipPath></defs><g clip-path="url(#pc)"><path d="M843.69 412.91A77.8 77.8 0 1 1 819.59 565.02" fill="none" stroke="#0a82ea" stroke-width="17.7" opacity=".6" filter="url(#gl)" transform="translate(0 7)"/><path d="M817.53 564.35A77.8 77.8 0 0 1 765.98 477.19" fill="none" stroke="#ff9d0a" stroke-width="17.7" opacity=".6" filter="url(#gl)" transform="translate(0 7)"/><path d="M766.39 475.06A77.8 77.8 0 0 1 788.56 434.74" fill="none" stroke="#9c41f1" stroke-width="17.7" opacity=".6" filter="url(#gl)" transform="translate(0 7)"/><path d="M790.14 433.25A77.8 77.8 0 0 1 817.53 417.05" fill="none" stroke="#10bdb8" stroke-width="17.7" opacity=".6" filter="url(#gl)" transform="translate(0 7)"/><path d="M819.59 416.38A77.8 77.8 0 0 1 841.51 412.91" fill="none" stroke="#d24ff5" stroke-width="17.7" opacity=".6" filter="url(#gl)" transform="translate(0 7)"/><circle cx="842.6" cy="490.7" r="68.95" fill="#32313f" opacity=".0"/><path d="M843.69 412.91A77.8 77.8 0 1 1 819.59 565.02" fill="none" stroke="#0a82ea" stroke-width="17.7"/><path d="M817.53 564.35A77.8 77.8 0 0 1 765.98 477.19" fill="none" stroke="#ff9d0a" stroke-width="17.7"/><path d="M766.39 475.06A77.8 77.8 0 0 1 788.56 434.74" fill="none" stroke="#9c41f1" stroke-width="17.7"/><path d="M790.14 433.25A77.8 77.8 0 0 1 817.53 417.05" fill="none" stroke="#10bdb8" stroke-width="17.7"/><path d="M819.59 416.38A77.8 77.8 0 0 1 841.51 412.91" fill="none" stroke="#d24ff5" stroke-width="17.7"/></g></svg>
<span class="t" style="left:801.16px;top:472.41px;font-size:25.5px;color:#0a7ce6;font-weight:700;letter-spacing:1.377px;">34 117</span>
<span class="t" style="left:806.46px;top:502.53px;font-size:9.3px;color:#fff;letter-spacing:0.284px;">Причины жалоб</span>
<div class="abs" style="left:991.600px;top:20.700px;width:4.400px;height:481px;border-radius:3px;background:#6d6b85"></div>
</body></html>
